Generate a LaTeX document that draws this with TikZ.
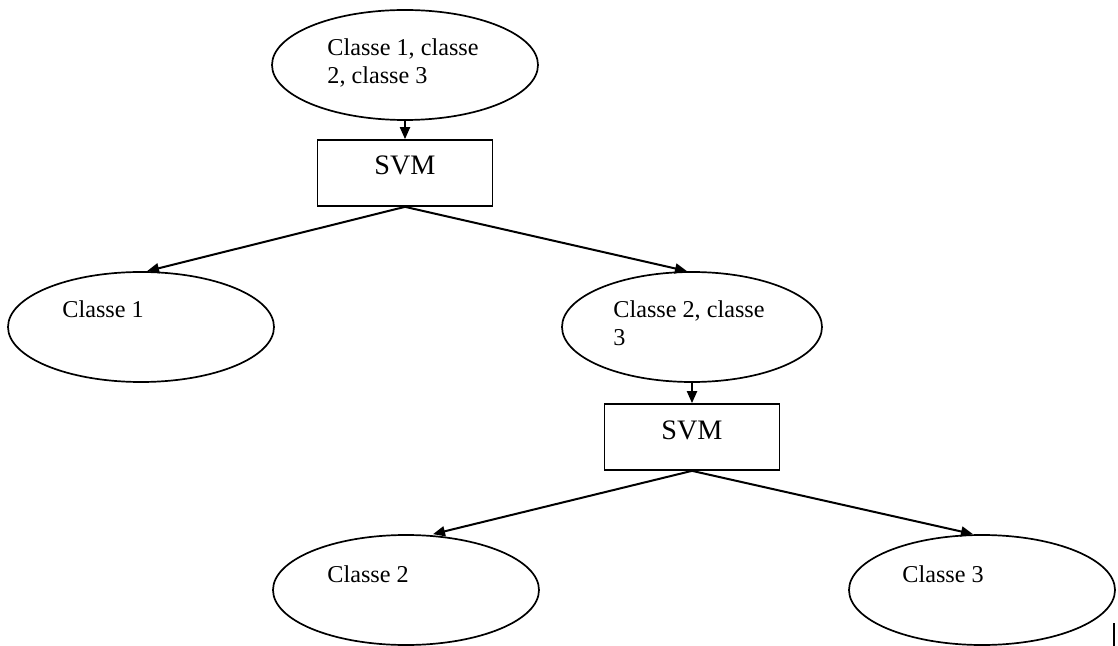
\documentclass[tikz,border=0pt]{standalone}
\usepackage{fontspec}
\setmainfont{Liberation Serif}
\usetikzlibrary{shapes.geometric,arrows.meta}

\tikzset{
  classnode/.style={ellipse, draw, line width=0.85pt, inner sep=0pt,
    minimum width=133pt, minimum height=55pt},
  svmbox/.style={rectangle, draw, line width=0.85pt, inner sep=0pt,
    minimum width=87.5pt, minimum height=33pt},
  lbl/.style={anchor=base west, inner sep=0pt, font=\fontsize{12.1pt}{13.9pt}\selectfont},
  svmlbl/.style={anchor=base, inner sep=0pt, font=\fontsize{14.1pt}{16pt}\selectfont},
  link/.style={line width=1pt, -{Triangle[length=6pt,width=5pt]}}
}

\begin{document}
\begin{tikzpicture}[x=0.5pt, y=-0.5pt]
  \useasboundingbox (0,0) rectangle (1118,646);

  % decision tree: one SVM per split
  \node[classnode] (all) at (405,65) {};
  \node[lbl] (allA) at (327,56) {Classe 1, classe};
  \node[lbl] (allB) at (327,83.8) {2, classe 3};

  \node[svmbox] (svmA) at (405,173) {};
  \node[svmlbl] (svmAt) at (405,175) {SVM};

  \node[classnode] (c1) at (141,327) {};
  \node[lbl] (c1t) at (62,318) {Classe 1};

  \node[classnode, minimum width=130pt] (c23) at (692,327) {};
  \node[lbl] (c23A) at (613,318) {Classe 2, classe};
  \node[lbl] (c23B) at (613,345.8) {3};

  \node[svmbox] (svmB) at (692,437) {};
  \node[svmlbl] (svmBt) at (692,439) {SVM};

  \node[classnode] (c2) at (406,590) {};
  \node[lbl] (c2t) at (327,582) {Classe 2};

  \node[classnode] (c3) at (982,590) {};
  \node[lbl] (c3t) at (902,582) {Classe 3};

  % connectors
  \draw[link] (all.south) -- (svmA.north);
  \draw[link] (svmA.south) -- ([xshift=3pt]c1.north);
  \draw[link] (svmA.south) -- ([xshift=-2.5pt]c23.north);
  \draw[link] (c23.south) -- (svmB.north);
  \draw[link] (svmB.south) -- ([xshift=13.5pt]c2.north);
  \draw[link] (svmB.south) -- ([xshift=-4.5pt]c3.north);

  % short vertical stroke at the lower right
  \coordinate (barTop) at (1114,623);
  \coordinate (barBot) at (1114,646);
  \draw[line width=1.1pt] (barTop) -- (barBot);
\end{tikzpicture}
\end{document}
